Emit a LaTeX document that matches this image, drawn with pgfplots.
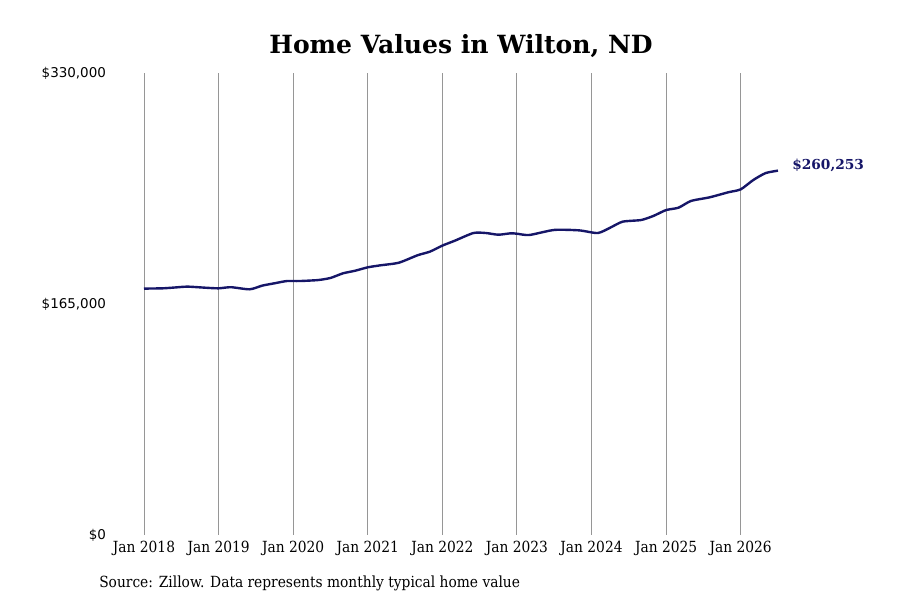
\documentclass[border=0pt]{standalone}
\usepackage{pgfplots}
\pgfplotsset{compat=1.18}
\usepackage{fontspec}
\setmainfont{DejaVu Serif}
\newfontfamily\condserif{DejaVu Serif Condensed}
\newfontfamily\labelsans{DejaVu Sans}
\definecolor{linenavy}{RGB}{22,22,104}
\definecolor{gridgray}{RGB}{150,150,150}

% monthly index: 0 = Jan 2018
\pgfplotstableread{
m  v
0   176.0
3   176.2
5   176.8
7   177.4
10  176.6
12  176.2
14  177.0
17  175.5
19  178.1
21  179.8
23  181.4
25  181.4
28  182.1
30  183.6
32  186.9
34  188.8
36  191.2
38  192.6
41  194.5
44  199.8
46  202.4
48  206.7
50  210.2
53  215.7
55  215.7
57  214.5
59  215.5
60  215.2
62  214.3
66  217.9
70  217.6
73  215.7
75  219.5
77  223.8
80  225.0
82  228.0
84  232.1
86  233.8
88  238.6
91  241.2
94  244.8
96  246.9
98  253.5
100 258.5
102 260.253
}\homevalues

\begin{document}
\begin{tikzpicture}[x=1pt,y=1pt]
\useasboundingbox (0,0) rectangle (675,450);
\begin{axis}[
    at={(108pt,48.75pt)}, anchor=south west,
    scale only axis,
    width=475.5pt, height=346.5pt,
    xmin=0, xmax=102,
    ymin=0, ymax=330,
    axis line style={draw=none},
    xtick={0,12,24,36,48,60,72,84,96},
    xticklabels={Jan 2018,Jan 2019,Jan 2020,Jan 2021,Jan 2022,Jan 2023,Jan 2024,Jan 2025,Jan 2026},
    ytick={0,165,330},
    yticklabels={{\$0},{\$165,000},{\$330,000}},
    major tick length=0pt,
    xmajorgrids,
    grid style={gridgray, line width=0.7pt},
    xticklabel style={font=\condserif\fontsize{11.5}{13}\selectfont, yshift=-1pt},
    yticklabel style={font=\labelsans\fontsize{10.1}{12}\selectfont, xshift=-25pt},
    clip=false,
]
\addplot[linenavy, line width=1.8pt, smooth, tension=0.4] table[x=m, y=v] {\homevalues};
\node[anchor=west, font=\bfseries\fontsize{10.3}{12}\selectfont, text=linenavy, inner sep=0pt]
    at (axis cs:102,260.253) [xshift=10.5pt, yshift=4pt] {\$260,253};
\end{axis}
\node[font=\bfseries\fontsize{18.8}{22}\selectfont] at (345.75,415.5) {Home Values in Wilton, ND};
\node[anchor=west, inner sep=0pt, font=\condserif\fontsize{11.5}{13}\selectfont] at (74.25,12.75) {Source: Zillow. Data represents monthly typical home value};
\end{tikzpicture}
\end{document}
